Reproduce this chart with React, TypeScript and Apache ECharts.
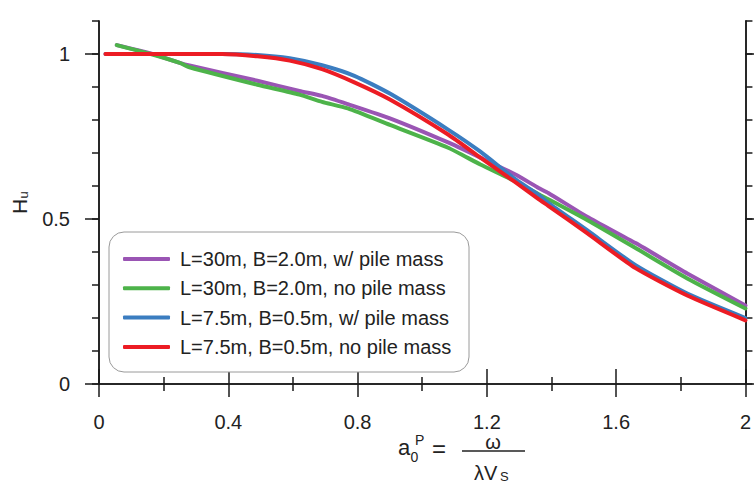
import React, { useEffect, useRef } from "react";
import * as echarts from "echarts";

const seriesNames = [
  "L=30m, B=2.0m, w/ pile mass",
  "L=30m, B=2.0m, no pile mass",
  "L=7.5m, B=0.5m, w/ pile mass",
  "L=7.5m, B=0.5m, no pile mass",
];
const seriesColors = ["#9A55B4", "#4DB34A", "#3B7DC0", "#EC1C24"];

const purpleData = [
  [0.055, 1.027], [0.16, 1.002], [0.25, 0.973], [0.28, 0.965], [0.49, 0.919],
  [0.62, 0.888], [0.69, 0.873], [0.77, 0.848], [0.9, 0.805], [1.08, 0.732],
  [1.18, 0.686], [1.29, 0.634], [1.36, 0.594], [1.39, 0.579], [1.51, 0.507],
  [1.66, 0.427], [1.82, 0.335], [2.0, 0.238],
];
const greenData = [
  [0.055, 1.027], [0.16, 1.0], [0.25, 0.973], [0.28, 0.96], [0.49, 0.907],
  [0.62, 0.877], [0.69, 0.855], [0.77, 0.835], [0.9, 0.785], [1.08, 0.716],
  [1.18, 0.665], [1.29, 0.613], [1.36, 0.575], [1.39, 0.56], [1.51, 0.497],
  [1.66, 0.412], [1.82, 0.32], [2.0, 0.229],
];
const blueData = [
  [0.02, 1.0], [0.38, 1.0], [0.49, 0.997], [0.59, 0.987],
  [0.69, 0.966], [0.79, 0.934], [0.9, 0.88], [1.08, 0.771], [1.18, 0.704],
  [1.29, 0.619], [1.36, 0.573], [1.39, 0.549], [1.51, 0.466], [1.66, 0.36],
  [1.82, 0.274], [2.0, 0.2],
];
const redData = [
  [0.02, 1.0], [0.38, 1.0], [0.49, 0.993], [0.59, 0.98], [0.69, 0.954],
  [0.79, 0.914], [0.9, 0.862], [1.08, 0.756], [1.18, 0.686], [1.29, 0.61],
  [1.36, 0.56], [1.39, 0.54], [1.51, 0.457], [1.66, 0.351], [1.82, 0.268],
  [2.0, 0.193],
];
const allData = [purpleData, greenData, blueData, redData];

const yMajorTicks = [0, 0.5, 1];

const FONT = "'Liberation Sans', Arial, sans-serif";
const AXIS_COLOR = "#1a1a1a";
const TEXT_COLOR = "#222";

export default function App() {
  const ref = useRef<HTMLDivElement>(null);

  useEffect(() => {
    if (!ref.current) return;
    const chart = echarts.init(ref.current, null, { renderer: "svg" });

    const axisLine = { show: true, lineStyle: { color: AXIS_COLOR, width: 1.5 } };
    const tickStyle = { color: AXIS_COLOR, width: 1.5 };

    const xBase = (pos: string, majorLen: number, showLabel: boolean) => ({
      type: "value",
      position: pos,
      min: 0,
      max: 2,
      interval: 0.4,
      axisLine,
      axisTick: { show: true, length: majorLen, lineStyle: tickStyle },
      minorTick: { show: true, splitNumber: 2, length: 7, lineStyle: tickStyle },
      axisLabel: {
        show: showLabel,
        fontSize: 20,
        color: TEXT_COLOR,
        fontFamily: FONT,
        margin: 28,
      },
      splitLine: { show: false },
      minorSplitLine: { show: false },
    });

    const yMinor = (pos: string) => ({
      type: "value",
      position: pos,
      min: 0,
      max: 1.1,
      interval: 0.1,
      axisLine,
      axisTick: { show: true, length: 7, lineStyle: tickStyle },
      axisLabel: { show: false },
      splitLine: { show: false },
    });
    const yMajor = (pos: string, showLabel: boolean) => ({
      type: "value",
      position: pos,
      min: 0,
      max: 1.1,
      axisLine,
      axisTick: { show: true, length: 14, lineStyle: tickStyle, customValues: yMajorTicks },
      axisLabel: {
        show: showLabel,
        customValues: yMajorTicks,
        fontSize: 20,
        color: TEXT_COLOR,
        fontFamily: FONT,
        margin: 29,
      },
      splitLine: { show: false },
    });

    const option: any = {
      animation: false,
      backgroundColor: "#fff",
      grid: { left: 99, right: 4, top: 21, bottom: 100, containLabel: false },
      xAxis: [xBase("bottom", 13, true), xBase("top", 15, false)],
      yAxis: [yMinor("left"), yMajor("left", true), yMinor("right"), yMajor("right", false)],
      legend: {
        orient: "vertical",
        left: 123,
        top: 249,
        padding: 0,
        itemGap: 9.3,
        itemWidth: 47,
        itemHeight: 4,
        icon: "roundRect",
        z: 10,
        textStyle: {
          fontSize: 20,
          color: TEXT_COLOR,
          fontFamily: FONT,
          lineHeight: 20,
          padding: [0, 0, 0, 5],
        },
        data: seriesNames,
      },
      series: seriesNames.map((name, i) => ({
        name,
        type: "line",
        xAxisIndex: 0,
        yAxisIndex: 1,
        data: allData[i],
        showSymbol: false,
        symbol: "none",
        smooth: 0.2,
        lineStyle: { color: seriesColors[i], width: 4, cap: "round", join: "round" },
        itemStyle: { color: seriesColors[i] },
        z: 2 + i,
      })),
      graphic: [
        {
          type: "rect",
          z: 8,
          shape: { x: 109, y: 232, width: 360, height: 140, r: 15 },
          style: { fill: "#fff", stroke: "#9a9a9a", lineWidth: 1 },
        },
        {
          type: "group",
          x: 27,
          y: 203,
          rotation: Math.PI / 2,
          children: [
            {
              type: "text",
              x: -3.5,
              y: -7.4,
              style: { text: "H", font: `21px ${FONT}`, fill: TEXT_COLOR, align: "center", verticalAlign: "middle" },
            },
            {
              type: "text",
              x: 8,
              y: -3.2,
              style: { text: "u", font: `13px ${FONT}`, fill: TEXT_COLOR, align: "center", verticalAlign: "middle" },
            },
          ],
        },
        {
          type: "text",
          x: 398,
          y: 447.5,
          style: { text: "a", font: `22px ${FONT}`, fill: TEXT_COLOR, align: "left", verticalAlign: "middle" },
        },
        {
          type: "text",
          x: 410.5,
          y: 457,
          style: { text: "0", font: `14px ${FONT}`, fill: TEXT_COLOR, align: "left", verticalAlign: "middle" },
        },
        {
          type: "text",
          x: 415,
          y: 440,
          style: { text: "P", font: `14px ${FONT}`, fill: TEXT_COLOR, align: "left", verticalAlign: "middle" },
        },
        {
          type: "text",
          x: 439,
          y: 448,
          style: { text: "=", font: `24px ${FONT}`, fill: TEXT_COLOR, align: "center", verticalAlign: "middle" },
        },
        {
          type: "line",
          shape: { x1: 462, y1: 451, x2: 525, y2: 451 },
          style: { stroke: TEXT_COLOR, lineWidth: 1.5 },
        },
        {
          type: "text",
          x: 493,
          y: 442,
          style: { text: "ω", font: `20px ${FONT}`, lineHeight: 12, fill: TEXT_COLOR, align: "center", verticalAlign: "middle" },
        },
        {
          type: "text",
          x: 474,
          y: 473,
          style: { text: "λV", font: `20px ${FONT}`, fill: TEXT_COLOR, align: "left", verticalAlign: "middle" },
        },
        {
          type: "text",
          x: 500,
          y: 476.5,
          style: { text: "S", font: `13px ${FONT}`, fill: TEXT_COLOR, align: "left", verticalAlign: "middle" },
        },
      ],
    };

    chart.setOption(option);
    return () => chart.dispose();
  }, []);

  return (
    <div
      ref={ref}
      style={{ position: "fixed", left: 0, top: 0, width: 754, height: 484, background: "#fff" }}
    />
  );
}
